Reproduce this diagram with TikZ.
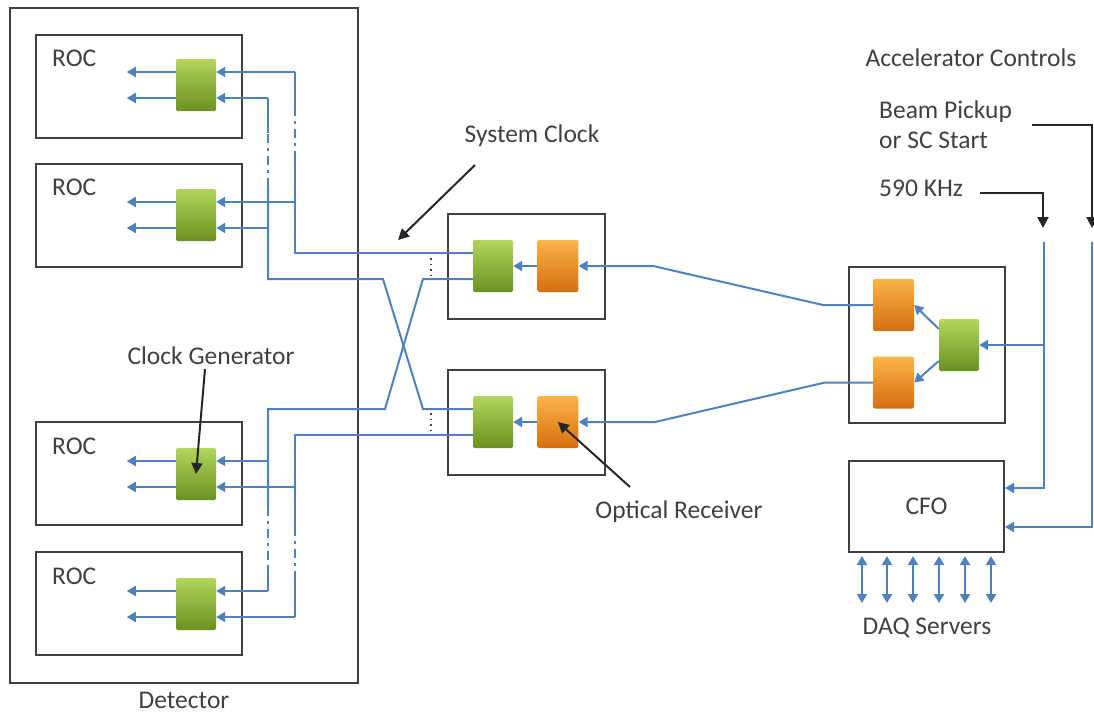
\documentclass[tikz,border=0pt]{standalone}
\usepackage{fontspec}
\setmainfont{Carlito}
\usetikzlibrary{positioning,arrows.meta}
\definecolor{sigblue}{RGB}{79,129,189}
\definecolor{boxgray}{RGB}{64,64,64}
\definecolor{txtgray}{RGB}{64,64,64}
\definecolor{grnTop}{RGB}{178,214,92}
\definecolor{grnMid}{RGB}{140,182,52}
\definecolor{grnBot}{RGB}{106,144,32}
\definecolor{orgTop}{RGB}{252,180,72}
\definecolor{orgMid}{RGB}{242,142,30}
\definecolor{orgBot}{RGB}{212,110,14}

\begin{document}
\begin{tikzpicture}[x=1pt,y=-1pt,>={Triangle[length=9pt,width=10pt]},
  box/.style={draw=boxgray,line width=2pt,inner sep=0pt},
  roc/.style={box,minimum width=206pt,minimum height=103pt},
  gchip/.style={rounded corners=2pt,inner sep=0pt,minimum width=40pt,minimum height=52pt,
    top color=grnTop,middle color=grnMid,bottom color=grnBot},
  ochip/.style={rounded corners=2pt,inner sep=0pt,minimum width=41pt,minimum height=52pt,
    top color=orgTop,middle color=orgMid,bottom color=orgBot},
  txt/.style={text=txtgray,inner sep=0pt,font=\fontsize{25.5}{30}\selectfont},
  sig/.style={draw=sigblue,line width=2pt},
  gap/.style={sig,dash pattern=on 9pt off 5pt on 3pt off 5pt},
  callout/.style={draw=black!85,line width=2pt,>={Triangle[length=11pt,width=11pt]}}]
\useasboundingbox (0,0) rectangle (1094,715);

% detector with its readout controllers
\node[box,minimum width=348pt,minimum height=675pt] (det) at (184,345.5) {};
\node[txt,below=8pt of det] (detl) {Detector};
\node[roc] (roc1) at (139,86.5) {};
\node[roc] (roc2) at (139,215) {};
\node[roc] (roc3) at (139,473.5) {};
\node[roc] (roc4) at (139,603.5) {};
\node[txt,anchor=west] (roc1t) at (52,58) {ROC};
\node[txt,anchor=west] (roc2t) at (52,187) {ROC};
\node[txt,anchor=west] (roc3t) at (52,446) {ROC};
\node[txt,anchor=west] (roc4t) at (52,576) {ROC};
\node[gchip] (g1) at (196,85) {};
\node[gchip] (g2) at (196,215) {};
\node[gchip] (g3) at (196,474) {};
\node[gchip] (g4) at (196,604) {};

% link boxes
\node[box,minimum width=157pt,minimum height=105pt] (lb1) at (526.5,266.5) {};
\node[box,minimum width=157pt,minimum height=105pt] (lb2) at (526.5,422.5) {};
\node[gchip] (lg1) at (493,266) {};
\node[ochip,right=24pt of lg1] (lo1) {};
\node[gchip] (lg2) at (493,422) {};
\node[ochip,right=24pt of lg2] (lo2) {};

% fanout and CFO
\node[box,minimum width=156pt,minimum height=156pt] (fb) at (927,345) {};
\node[ochip] (fo1) at (893.5,305) {};
\node[ochip] (fo2) at (893.5,382.5) {};
\node[gchip] (fg) at (959,345) {};
\node[box,minimum width=155pt,minimum height=91pt,text=txtgray,
  font=\fontsize{25.5}{30}\selectfont] (cfo) at (926.5,506.5) {CFO};
\node[txt] (daq) at (927,628) {DAQ Servers};

% texts
\node[txt] (accel) at (971,58) {Accelerator Controls};
\node[txt,anchor=west,align=left] (beam) at (879,125) {Beam Pickup\\or SC Start};
\node[txt,anchor=west] (k590) at (879,188) {590 KHz};
\node[txt] (sysclk) at (532,136) {System Clock};
\node[txt] (clkgen) at (211,356) {Clock Generator};
\node[txt] (optrx) at (679,512) {Optical Receiver};

% ROC outputs
\draw[sig,->] ([yshift=13pt]g1.west) -- ++(-49,0);
\draw[sig,->] ([yshift=-13pt]g1.west) -- ++(-49,0);
\draw[sig,->] ([yshift=13pt]g2.west) -- ++(-49,0);
\draw[sig,->] ([yshift=-13pt]g2.west) -- ++(-49,0);
\draw[sig,->] ([yshift=13pt]g3.west) -- ++(-49,0);
\draw[sig,->] ([yshift=-13pt]g3.west) -- ++(-49,0);
\draw[sig,->] ([yshift=13pt]g4.west) -- ++(-49,0);
\draw[sig,->] ([yshift=-13pt]g4.west) -- ++(-49,0);

% clock lines to the ROCs
\coordinate (a0) at (295,253);
\coordinate (a1) at (295,72);
\coordinate (a2) at (295,202);
\draw[sig] ([yshift=13pt]lg1.west) -- (a0) -- (a2) -- (295,160);
\draw[gap] (295,160) -- (295,113);
\draw[sig] (295,113) -- (a1);
\draw[sig,->] (a1) -- (a1 -| g1.east);
\draw[sig,->] (a2) -- (a2 -| g2.east);

\coordinate (b0) at (268,279);
\coordinate (b1) at (268,98);
\coordinate (b2) at (268,228);
\draw[sig] ([yshift=13pt]lg2.west) -- (423,409) -- (383,279) -- (b0) -- (b2) -- (268,187);
\draw[gap] (268,187) -- (268,133);
\draw[sig] (268,133) -- (b1);
\draw[sig,->] (b1) -- (b1 -| g1.east);
\draw[sig,->] (b2) -- (b2 -| g2.east);

\coordinate (c0) at (268,409);
\coordinate (c1) at (268,461);
\coordinate (c2) at (268,591);
\draw[sig] ([yshift=-13pt]lg1.west) -- (423,279) -- (385,409) -- (c0) -- (c1) -- (268,507);
\draw[gap] (268,507) -- (268,567);
\draw[sig] (268,567) -- (c2);
\draw[sig,->] (c1) -- (c1 -| g3.east);
\draw[sig,->] (c2) -- (c2 -| g4.east);

\coordinate (d0) at (295,435);
\coordinate (d1) at (295,487);
\coordinate (d2) at (295,617);
\draw[sig] ([yshift=-13pt]lg2.west) -- (d0) -- (d1) -- (295,527);
\draw[gap] (295,527) -- (295,580);
\draw[sig] (295,580) -- (d2);
\draw[sig,->] (d1) -- (d1 -| g3.east);
\draw[sig,->] (d2) -- (d2 -| g4.east);

\draw[draw=boxgray,line width=1.5pt,dash pattern=on 1.5pt off 4pt] (431,258) -- (431,275);
\draw[draw=boxgray,line width=1.5pt,dash pattern=on 1.5pt off 4pt] (431,413) -- (431,430);

% receivers and fibers
\draw[sig,->] (lo1.west) -- (lg1.east);
\draw[sig,->] (lo2.west) -- (lg2.east);
\draw[sig,->] (fo1.west) -- (823,305) -- (653,266) -- (lo1.east);
\draw[sig,->] (fo2.west) -- (825,382.5) -- (655,422) -- (lo2.east);
\draw[sig,->] ([yshift=16pt]fg.west) -- (fo1.east);
\draw[sig,->] ([yshift=-16pt]fg.west) -- (fo2.east);

% accelerator inputs
\coordinate (k0) at (980,193);
\coordinate (p0) at (1032,125);
\draw[callout,->] (k0) -- (1043,193) -- (1043,228);
\draw[callout,->] (p0) -- (1092,125) -- (1092,228);
\coordinate (v1) at (1044,242);
\coordinate (v2) at (1092,242);
\draw[sig,->] (v1) -- (1044,488) -- ([yshift=18.5pt]cfo.east);
\draw[sig,->] (1044,345) -- (fg.east);
\draw[sig,->] (v2) -- (1092,527) -- ([yshift=-20.5pt]cfo.east);

% DAQ links
\draw[sig,<->] ([xshift=14pt,yshift=-3pt]cfo.south west) -- ++(0,47);
\draw[sig,<->] ([xshift=39pt,yshift=-3pt]cfo.south west) -- ++(0,47);
\draw[sig,<->] ([xshift=65pt,yshift=-3pt]cfo.south west) -- ++(0,47);
\draw[sig,<->] ([xshift=91pt,yshift=-3pt]cfo.south west) -- ++(0,47);
\draw[sig,<->] ([xshift=117pt,yshift=-3pt]cfo.south west) -- ++(0,47);
\draw[sig,<->] ([xshift=143pt,yshift=-3pt]cfo.south west) -- ++(0,47);

% callouts
\coordinate (sc0) at (475,165);
\coordinate (sc1) at (398,240);
\draw[callout,->] (sc0) -- (sc1);
\draw[callout,->] ([xshift=-6pt,yshift=-4pt]clkgen.south) -- (g3.center);
\coordinate (or0) at (630,487);
\draw[callout,->] (or0) -- (lo2.center);
\end{tikzpicture}
\end{document}
